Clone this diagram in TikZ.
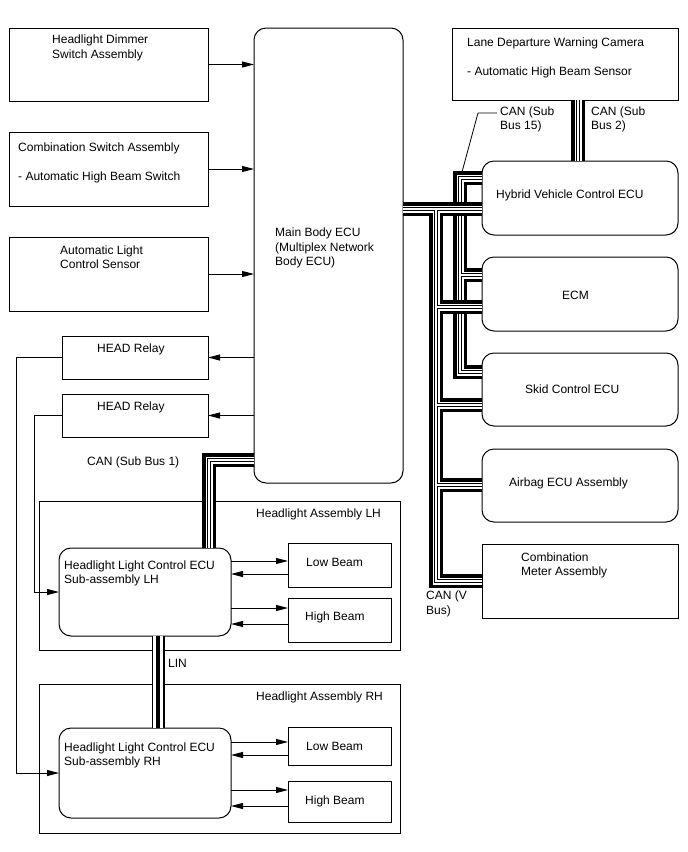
\documentclass[tikz,border=0pt]{standalone}
\usepackage{fontspec}
\setmainfont{Liberation Sans}
\usetikzlibrary{arrows.meta,calc}
\begin{document}
\begin{tikzpicture}[x=1pt,y=-1pt, font=\fontsize{12}{14.5}\selectfont,
 box/.style={draw, line width=1pt, inner sep=0pt, outer sep=0pt},
 rbox/.style={box, rounded corners=12pt},
 txt/.style={inner sep=0pt, align=left, anchor=west},
 arr/.style={line width=1pt, -{Triangle[length=12pt,width=6pt]}},
 wire/.style={line width=1pt},
 canbus/.style={preaction={draw,black,line width=14pt}, preaction={draw,white,line width=7pt}, preaction={draw,black,line width=3.8pt}, draw=white, line width=1.4pt},
 linbus/.style={preaction={draw,black,line width=13pt}, preaction={draw,white,line width=10.4pt}, draw=black, line width=4.6pt}]
\fill[white] (0,0) rectangle (688,852);
\useasboundingbox (0,0) rectangle (688,852);

% boxes
\node[box, minimum width=199pt, minimum height=73pt] (dimmer) at (108.5,64.5) {};
\node[box, minimum width=199pt, minimum height=74pt] (combsw) at (108.5,169) {};
\node[box, minimum width=199pt, minimum height=74pt] (autolight) at (108.5,274) {};
\node[box, minimum width=146pt, minimum height=43pt] (relay1) at (135,357.5) {};
\node[box, minimum width=146pt, minimum height=43pt] (relay2) at (135,415.5) {};
\node[rbox, minimum width=149pt, minimum height=455pt] (main) at (328.5,255.5) {};
\node[box, minimum width=226pt, minimum height=72pt] (ldw) at (565,64) {};
\node[rbox, minimum width=196pt, minimum height=74pt] (hyb) at (580,198) {};
\node[rbox, minimum width=196pt, minimum height=74pt] (ecm) at (580,294) {};
\node[rbox, minimum width=196pt, minimum height=73pt] (skid) at (580,389.5) {};
\node[rbox, minimum width=196pt, minimum height=73pt] (airbag) at (580,485.5) {};
\node[box, minimum width=196pt, minimum height=74pt] (meter) at (580,581) {};
\node[box, minimum width=361pt, minimum height=149pt] (asmLH) at (219.5,575.5) {};
\node[rbox, minimum width=172pt, minimum height=88pt] (ecuLH) at (145,592) {};
\node[box, minimum width=103pt, minimum height=44pt] (lowLH) at (339.5,565) {};
\node[box, minimum width=103pt, minimum height=44pt] (highLH) at (339.5,620) {};
\node[box, minimum width=361pt, minimum height=149pt] (asmRH) at (219.5,758.5) {};
\node[rbox, minimum width=172pt, minimum height=90pt] (ecuRH) at (145,773) {};
\node[box, minimum width=103pt, minimum height=38pt] (lowRH) at (339.5,746) {};
\node[box, minimum width=103pt, minimum height=41pt] (highRH) at (339.5,801.5) {};

% texts
\node[txt] (tdim) at (52,48) {Headlight Dimmer\\Switch Assembly};
\node[txt] (tcomb) at (18,162.5) {Combination Switch Assembly\\[14.5pt]- Automatic High Beam Switch};
\node[txt] (tauto) at (60,257) {Automatic Light\\Control Sensor};
\node[txt] (trel1) at (97,349) {HEAD Relay};
\node[txt] (trel2) at (97,407) {HEAD Relay};
\node[txt] (tmain) at (275,248) {Main Body ECU\\(Multiplex Network\\Body ECU)};
\node[txt] (tldw) at (467,57.5) {Lane Departure Warning Camera\\[14.5pt]- Automatic High Beam Sensor};
\node[txt] (thyb) at (496,195) {Hybrid Vehicle Control ECU};
\node[txt] (tecm) at (562,295) {ECM};
\node[txt] (tskid) at (525,389) {Skid Control ECU};
\node[txt] (tair) at (509,483) {Airbag ECU Assembly};
\node[txt] (tmeter) at (521,565.5) {Combination\\Meter Assembly};
\node[txt] (tasmLH) at (256,514) {Headlight Assembly LH};
\node[txt] (tecuLH) at (64,573.5) {Headlight Light Control ECU\\Sub-assembly LH};
\node[txt] (tlowLH) at (306,562) {Low Beam};
\node[txt] (thighLH) at (305,617) {High Beam};
\node[txt] (tasmRH) at (256,697) {Headlight Assembly RH};
\node[txt] (tecuRH) at (64,755.5) {Headlight Light Control ECU\\Sub-assembly RH};
\node[txt] (tlowRH) at (306,746) {Low Beam};
\node[txt] (thighRH) at (305,801) {High Beam};
\node[txt] (lsb1) at (87,462) {CAN (Sub Bus 1)};
\node[txt] (llin) at (168,663) {LIN};
\node[txt] (lsb15) at (500,119.5) {CAN (Sub\\Bus 15)};
\node[txt] (lsb2) at (591,119.5) {CAN (Sub\\Bus 2)};
\node[txt] (lvb) at (426,604) {CAN (V\\Bus)};

% input arrows
\draw[arr] (dimmer.east) -- (dimmer.east -| main.west);
\draw[arr] (combsw.east) -- (combsw.east -| main.west);
\draw[arr] (autolight.east) -- (autolight.east -| main.west);
\draw[arr] (relay1.east -| main.west) -- (relay1.east);
\draw[arr] (relay2.east -| main.west) -- (relay2.east);

% relay wires
\coordinate (w1) at (16,0);
\coordinate (w2) at (34,0);
\draw[arr] (relay1.west) -- (relay1.west -| w1) -- (w1 |- ecuRH.west) -- (ecuRH.west);
\draw[arr] (relay2.west) -- (relay2.west -| w2) -- (w2 |- ecuLH.west) -- (ecuLH.west);

% beam arrows LH
\coordinate (la1) at (288,561);
\coordinate (la2) at (288,574);
\coordinate (la3) at (288,608);
\coordinate (la4) at (288,624);
\draw[arr] (la1 -| ecuLH.east) -- (la1);
\draw[arr] (la2) -- (la2 -| ecuLH.east);
\draw[arr] (la3 -| ecuLH.east) -- (la3);
\draw[arr] (la4) -- (la4 -| ecuLH.east);
% beam arrows RH
\coordinate (ra1) at (288,742);
\coordinate (ra2) at (288,755);
\coordinate (ra3) at (288,790);
\coordinate (ra4) at (288,806);
\draw[arr] (ra1 -| ecuRH.east) -- (ra1);
\draw[arr] (ra2) -- (ra2 -| ecuRH.east);
\draw[arr] (ra3 -| ecuRH.east) -- (ra3);
\draw[arr] (ra4) -- (ra4 -| ecuRH.east);

% leader for sub bus 15
\coordinate (ld1) at (497,113);
\coordinate (ld2) at (478,113);
\coordinate (ld3) at (462,172);
\draw[line width=0.8pt] (ld1) -- (ld2) -- (ld3);

% CAN sub bus 2
\coordinate (sb2) at (578,0);
\draw[canbus] (ldw.south -| sb2) -- (hyb.north -| sb2);

% CAN sub bus 15
\coordinate (s15) at (460,0);
\coordinate (h15) at (482,178);
\coordinate (e15) at (482,275);
\coordinate (k15) at (482,372);
\draw[canbus] (h15) -- (h15 -| s15) -- (s15 |- k15) -- (k15)
  (e15 -| s15) -- (e15);

% CAN V bus
\coordinate (v0) at (403,209);
\coordinate (vt) at (436,0);
\coordinate (vm) at (482,581);
\coordinate (ve) at (482,307);
\coordinate (vs) at (482,405);
\coordinate (va) at (482,485);
\draw[canbus] (v0) -- (v0 -| hyb.west)
  (v0 -| vt) -- (vt |- vm) -- (vm)
  (ve -| vt) -- (ve)
  (vs -| vt) -- (vs)
  (va -| vt) -- (va);

% CAN sub bus 1
\coordinate (sb1a) at (254,460);
\coordinate (sb1x) at (209,0);
\draw[canbus] (sb1a) -- (sb1a -| sb1x) -- (sb1x |- ecuLH.north);

% LIN
\coordinate (lin) at (158,0);
\draw[linbus] (lin |- ecuLH.south) -- (lin |- ecuRH.north);
\end{tikzpicture}
\end{document}
